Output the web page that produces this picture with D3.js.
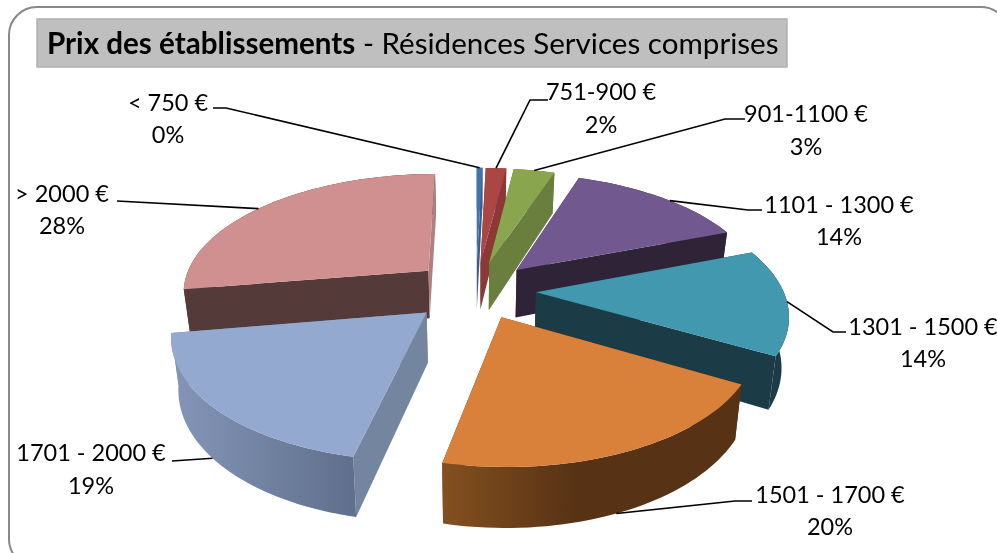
<!DOCTYPE html>
<html><head><meta charset="utf-8">
<script src="https://cdn.jsdelivr.net/npm/d3@7"></script>
<style>
html,body{margin:0;padding:0;background:#fff;overflow:hidden}
svg{display:block;filter:blur(0.45px)}
text{font-family:Lato,"Open Sans",sans-serif;fill:#000}
</style></head><body>
<svg id="c" width="997" height="553"></svg>
<script>
const titleBold = "Prix des établissements";
const titleRest = " - Résidences Services comprises";
const categories = ["< 750 €","751-900 €","901-1100 €","1101 - 1300 €","1301 - 1500 €","1501 - 1700 €","1701 - 2000 €","> 2000 €"];
const values = [0.45,1.6,3.2,14,14,20.2,19,27.6];
const percentLabels = ["0%","2%","3%","14%","14%","20%","19%","28%"];
const topColors = ["#4572a7","#aa4643","#89a54e","#71588f","#4198af","#d9813b","#93a9cf","#d09090"];
const endWallColors = ["#38608f","#8c3836","#6a7f3d","#2f2338","#1b3b47","#5a3416","#74859f","#b08080"];
const startWallColors = ["#38608f","#8c3836","#6a7f3d","#2f2338","#1b3b47","#5a3416","#74859f","#553a3a"];
const rimLeftColors = ["#38608f","#8c3836","#6a7f3d","#2f2338","#1b3b47","#84501f","#8496b8","#553a3a"];
const rimRightColors = ["#38608f","#8c3836","#6a7f3d","#2f2338","#1b3b47","#573215","#5f6f8c","#553a3a"];
const explosions = [60,60,60,60,60,60,66,64];
const radii = [247,247,247,247,247,242,243,247];
const drawOrder = [7,0,1,2,3,4,6,5];

const cx=476, cy=290, squash=0.479, persp=0.000663, depth=49, zShrink=0.024;
const pie=d3.pie().value(d=>d).sort(null)(values);

function project(theta,r,mid,z,e){
  const u=r*Math.sin(theta)+e*Math.sin(mid);
  const v=-r*Math.cos(theta)-e*Math.cos(mid);
  const s=1/(1-persp*v);
  return [cx+u*s*(1-zShrink*z), cy+(squash*v+depth*z)*s];
}
const line=d3.line();
const svg=d3.select("#c");
const defs=svg.append("defs");

svg.append("rect").attr("x",9).attr("y",7).attr("width",1000).attr("height",560).attr("rx",28)
  .attr("fill","#fff").attr("stroke","#888").attr("stroke-width",2);
svg.append("rect").attr("x",37).attr("y",19).attr("width",750).attr("height",48)
  .attr("fill","#bfbfbf").attr("stroke","#b0b0b0").attr("stroke-width",1.5);
const tt=svg.append("text").attr("x",47).attr("y",54).attr("font-size",29.6);
tt.append("tspan").attr("font-weight",700).text(titleBold);
tt.append("tspan").text(titleRest);

function arcPts(a,b,mid,z,e,R){
  const n=Math.max(4,Math.ceil((b-a)/0.03));
  return d3.range(n+1).map(i=>project(a+(b-a)*i/n,R,mid,z,e));
}
drawOrder.forEach(i=>{
  const p=pie[i], a=p.startAngle, b=p.endAngle, mid=(a+b)/2, e=explosions[i], R=radii[i];
  const g=svg.append("g");
  const apex0=project(0,0,mid,0,e), apex1=project(0,0,mid,1,e);
  const endWall=()=>g.append("path").attr("d",line([apex0,project(b,R,mid,0,e),project(b,R,mid,1,e),apex1])+"Z").attr("fill",endWallColors[i]);
  g.append("path").attr("d",line([apex0,project(a,R,mid,0,e),project(a,R,mid,1,e),apex1])+"Z").attr("fill",startWallColors[i]);
  if(i!==7) endWall();
  const top=arcPts(a,b,mid,0,e,R), bot=arcPts(a,b,mid,1,e,R);
  const xs=d3.extent(top.concat(bot),d=>d[0]);
  const id="rim"+i;
  const gr=defs.append("linearGradient").attr("id",id).attr("gradientUnits","userSpaceOnUse")
    .attr("x1",xs[0]).attr("x2",i===5?xs[0]+(xs[1]-xs[0])*0.45:xs[1]).attr("y1",0).attr("y2",0);
  gr.append("stop").attr("offset",0).attr("stop-color",rimLeftColors[i]);
  gr.append("stop").attr("offset",1).attr("stop-color",rimRightColors[i]);
  g.append("path").attr("d",line(top.concat(bot.slice().reverse()))+"Z").attr("fill",`url(#${id})`);
  if(i===7) endWall();
  g.append("path").attr("d",line([apex0].concat(top))+"Z").attr("fill",topColors[i]);
});

const labelLayout=[
 {x:168,y1:111,y2:143,elbow:[[213,108],[226,108]],z:0,t:.5},
 {x:601,y1:100,y2:133,elbow:[[548,100],[530,100]],z:0,t:.5},
 {x:806,y1:122,y2:155,elbow:[[745,119],[725,119]],z:0,t:.5},
 {x:839,y1:213,y2:245,elbow:[[762,210],[748,210]],z:0,t:.55},
 {x:923,y1:335,y2:367,elbow:[[846,332],[833,332]],z:0,t:.5},
 {x:830,y1:503,y2:535,elbow:[[752,501],[735,501]],z:1,t:.52},
 {x:91,y1:461,y2:494,elbow:[[172,461]],z:1,t:.55},
 {x:62,y1:202,y2:234,elbow:[[117,201]],z:0,t:.47}
];
labelLayout.forEach((l,i)=>{
  const p=pie[i], mid=(p.startAngle+p.endAngle)/2;
  const end=project(p.startAngle+(p.endAngle-p.startAngle)*l.t,radii[i],mid,l.z,explosions[i]);
  svg.append("path").attr("d",line(l.elbow.concat([end]))).attr("fill","none").attr("stroke","#000").attr("stroke-width",1.6);
  svg.append("text").attr("x",l.x).attr("y",l.y1).attr("text-anchor","middle").attr("font-size",23.5).text(categories[i]);
  svg.append("text").attr("x",l.x).attr("y",l.y2).attr("text-anchor","middle").attr("font-size",23.5).text(percentLabels[i]);
});
</script></body></html>
